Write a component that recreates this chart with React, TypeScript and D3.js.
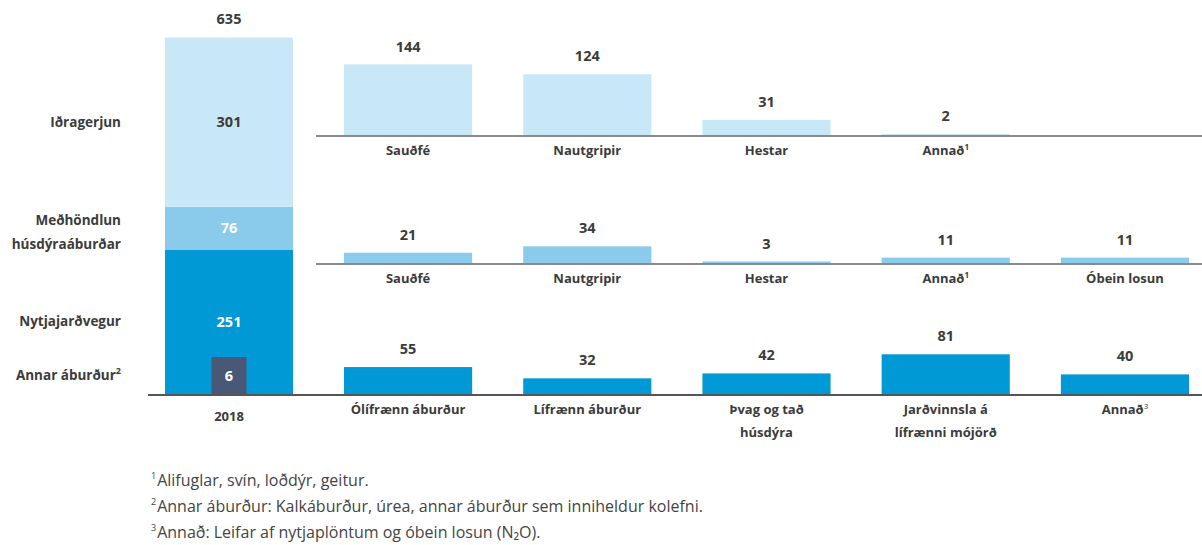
import { scaleLinear, scaleBand, stack } from 'd3';

// Left stacked bar (2018 total)
const mainKeys = ['annar', 'nytja', 'medh', 'idra'];
const mainLabels = ['Annar áburður', 'Nytjajarðvegur', 'Meðhöndlun húsdýraáburðar', 'Iðragerjun'];
const mainValues = [6, 251, 76, 301];
const mainTotal = 635;
const mainYear = '2018';

// Breakdown rows
const row1Labels = ['Sauðfé', 'Nautgripir', 'Hestar', 'Annað¹'];
const row1Values = [144, 124, 31, 2];
const row2Labels = ['Sauðfé', 'Nautgripir', 'Hestar', 'Annað¹', 'Óbein losun'];
const row2Values = [21, 34, 3, 11, 11];
const row3Labels = ['Ólífrænn áburður', 'Lífrænn áburður', 'Þvag og tað|húsdýra', 'Jarðvinnsla á|lífrænni mójörð', 'Annað³'];
const row3Values = [55, 32, 42, 81, 40];

const footnotes = [
  ['1', 'Alifuglar, svín, loðdýr, geitur.'],
  ['2', 'Annar áburður: Kalkáburður, úrea, annar áburður sem inniheldur kolefni.'],
  ['3', 'Annað: Leifar af nytjaplöntum og óbein losun (N₂O).'],
];

const colors: Record<string, string> = {
  idra: '#c8e8f8',
  medh: '#8acbeb',
  nytja: '#0099d6',
  annar: '#4a5877',
};
const textColor = '#3b3b3b';
const font = '"Open Sans", sans-serif';

const W = 1202;
const H = 545;

export default function App() {
  const baseY = 394;
  const y = scaleLinear().domain([0, mainTotal]).range([baseY, 37]);
  const xMain = scaleBand().domain([mainYear]).range([165, 293]);
  const cx = (xMain(mainYear) ?? 0) + xMain.bandwidth() / 2;

  const row: Record<string, number> = {};
  mainKeys.forEach((k, i) => (row[k] = mainValues[i]));
  const series = stack<Record<string, number>>().keys(mainKeys)([row]);

  const x = scaleBand<number>().domain([0, 1, 2, 3, 4]).range([344, 1189]).paddingInner(0.285);
  const h = scaleLinear().domain([0, 100]).range([0, 49]);

  const rows = [
    { labels: row1Labels, values: row1Values, base: 135, color: colors.idra },
    { labels: row2Labels, values: row2Values, base: 263, color: colors.medh },
    { labels: row3Labels, values: row3Values, base: baseY, color: colors.nytja },
  ];

  const badgeW = 35;
  const badgeH = 37;

  return (
    <svg width={W} height={H} style={{ position: 'absolute', left: 0, top: 0, background: '#fff' }} fontFamily={font}>
      {/* stacked bar */}
      {series.map((s) => {
        const key = s.key;
        const [y0, y1] = s[0];
        if (key === 'annar') return null;
        const bottom = key === 'nytja' ? y(0) : y(y0);
        return (
          <rect key={key} x={xMain(mainYear)} width={xMain.bandwidth()} y={y(y1)} height={bottom - y(y1)} fill={colors[key]} />
        );
      })}
      {series.map((s, i) => {
        const key = s.key;
        const [y0, y1] = s[0];
        const isBadge = key === 'annar';
        const mid = isBadge ? baseY - badgeH / 2 : (key === 'nytja' ? (y(0) + y(y1)) / 2 : (y(y0) + y(y1)) / 2);
        const lbl = mainLabels[i];
        const lines = key === 'medh' ? ['Meðhöndlun', 'húsdýraáburðar'] : [lbl];
        return (
          <g key={'l' + key}>
            {isBadge && <rect x={cx - badgeW / 2} y={baseY - badgeH} width={badgeW} height={badgeH} fill={colors.annar} />}
            <text x={cx} y={mid} dy="0.35em" textAnchor="middle" fontSize={14.5} fontWeight={700}
              fill={key === 'idra' ? textColor : '#fff'}>{mainValues[i]}</text>
            <text x={121} y={mid} textAnchor="end" fontSize={13.5} fontWeight={700} fill={textColor}>
              {lines.map((t, j) => (
                <tspan key={j} x={121} dy={j === 0 ? (0.35 - (lines.length - 1) * 0.62) * 13.5 + 'px' : '24px'}>
                  {t}
                  {isBadge && <tspan fontSize={9} dy="-6">2</tspan>}
                </tspan>
              ))}
            </text>
          </g>
        );
      })}
      <text x={cx} y={y(mainTotal) - 18} dy="0.35em" textAnchor="middle" fontSize={14.5} fontWeight={700} fill={textColor}>{mainTotal}</text>
      <text x={cx} y={baseY + 22} dy="0.35em" textAnchor="middle" fontSize={13} fontWeight={700} fill={textColor}>{mainYear}</text>

      {/* breakdown rows */}
      {rows.map((r, ri) => (
        <g key={'row' + ri}>
          {r.values.map((v, i) => {
            const bx = x(i) ?? 0;
            const mx = bx + x.bandwidth() / 2;
            const top = r.base - h(v);
            const parts = r.labels[i].split('|');
            return (
              <g key={i}>
                <rect x={bx} y={top} width={x.bandwidth()} height={h(v)} fill={r.color} />
                <text x={mx} y={top - 18} dy="0.35em" textAnchor="middle" fontSize={14.5} fontWeight={700} fill={textColor}>{v}</text>
                <text x={mx} y={r.base + 20} dy="0.35em" textAnchor="middle" fontSize={13} fontWeight={700} fill={textColor}>
                  {parts.map((p, j) => {
                    const m = p.match(/^(.*?)([¹³])$/);
                    return (
                      <tspan key={j} x={mx} dy={j === 0 ? 0 : 23}>
                        {m ? m[1] : p}
                        {m && <tspan fontSize={8} dy="-5" fontWeight={m[2] === '³' ? 400 : 700}>{m[2] === '¹' ? '1' : '3'}</tspan>}
                      </tspan>
                    );
                  })}
                </text>
              </g>
            );
          })}
          <line x1={ri === 2 ? 148 : 316} x2={W} y1={r.base + 1} y2={r.base + 1} stroke={ri === 2 ? '#555' : '#8a8a8a'} strokeWidth={2} />
        </g>
      ))}

      {/* footnotes */}
      {footnotes.map(([n, t], i) => (
        <text key={n} x={151} y={486 + i * 26} fontSize={16} fill="#444">
          <tspan fontSize={9} dy="-7">{n}</tspan>
          <tspan dx="1" dy="7">{t}</tspan>
        </text>
      ))}
    </svg>
  );
}
